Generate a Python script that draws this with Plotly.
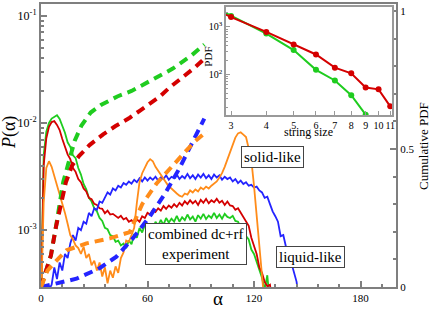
import plotly.graph_objects as go

# ---------------- data ----------------
ALPHA_STEP = 1.5  # histogram bin width in alpha

# P(alpha) in units of 1e-3 on bins alpha = 0, 1.5, 3, ...
P_GREEN_E3 = [0.2, 5.0, 8.3, 10.0, 11.0, 11.5, 11.8, 10.9, 9.4, 8.1, 6.6, 6.0, 5.0, 4.7, 3.8, 3.3, 2.7, 2.4, 2.0, 1.85,
              1.6, 1.5, 1.3, 1.22, 1.05, 1.02, 0.9, 0.88, 0.78, 0.8, 0.72, 0.75, 0.68, 0.8, 0.74, 0.92, 0.85, 1.05, 0.95, 1.12,
              1.02, 1.15, 1.02, 1.2, 1.1, 1.25, 1.12, 1.3, 1.18, 1.28, 1.2, 1.36, 1.2, 1.32, 1.24, 1.4, 1.26, 1.34, 1.2, 1.38,
              1.28, 1.42, 1.27, 1.37, 1.3, 1.45, 1.3, 1.4, 1.28, 1.42, 1.33, 1.3, 1.36, 1.22, 1.2, 1.06, 1.05, 0.88, 0.82, 0.66,
              0.6, 0.5, 0.43, 0.36, 0.28, 0.38, 0.2]
P_RED_E3 = [0.2, 4.0, 7.2, 9.2, 10.2, 10.4, 9.6, 8.6, 7.1, 6.1, 5.1, 4.6, 3.8, 3.5, 3.0, 2.8, 2.45, 2.3, 2.0, 1.95,
            1.76, 1.72, 1.6, 1.58, 1.44, 1.52, 1.4, 1.42, 1.36, 1.3, 1.36, 1.26, 1.3, 1.2, 1.24, 1.16, 1.26, 1.2, 1.35, 1.3,
            1.45, 1.4, 1.55, 1.48, 1.6, 1.52, 1.68, 1.58, 1.7, 1.62, 1.75, 1.65, 1.8, 1.7, 1.86, 1.75, 1.9, 1.78, 1.88, 1.72,
            1.92, 1.8, 1.96, 1.78, 1.9, 1.82, 1.96, 1.8, 1.88, 1.72, 1.85, 1.7, 1.68, 1.55, 1.6, 1.45, 1.35, 1.22, 1.1, 0.85,
            0.7, 0.6, 0.45, 0.4, 0.33, 0.3, 0.31, 0.2]
P_BLUE_E3 = [0.2, 0.2, 0.25, 0.28, 0.31, 0.45, 0.35, 0.5, 0.42, 0.6, 0.55, 0.75, 0.9, 0.8, 1.05, 1.0, 1.2, 1.15, 1.45, 1.35,
             1.6, 1.55, 1.85, 1.8, 2.05, 2.25, 2.15, 2.45, 2.35, 2.6, 2.5, 2.75, 2.65, 2.85, 2.72, 2.95, 2.8, 3.05, 2.85, 3.1,
             2.9, 3.1, 2.95, 3.15, 2.9, 3.1, 3.0, 3.25, 2.95, 3.15, 3.05, 3.3, 3.0, 3.2, 3.05, 3.35, 3.05, 3.25, 3.0, 3.3,
             3.1, 3.35, 3.05, 3.25, 3.0, 3.3, 3.1, 3.25, 2.95, 3.15, 3.0, 3.1, 2.85, 3.0, 2.75, 2.9, 2.7, 2.8, 2.6, 2.65,
             2.5, 2.55, 2.35, 2.25, 2.0, 2.05, 1.75, 1.5, 1.35, 1.2, 0.88, 0.9, 0.7, 0.56, 0.5, 0.4, 0.33, 0.2]
P_ORANGE_E3 = [0.2, 1.8, 3.8, 4.4, 3.9, 3.2, 2.7, 2.2, 1.8, 1.45, 1.15, 0.9, 0.82, 0.72, 0.68, 0.6, 0.7, 0.55, 0.6, 0.47,
               0.52, 0.42, 0.5, 0.37, 0.45, 0.32, 0.42, 0.36, 0.46, 0.4, 0.55, 0.62, 0.8, 0.78, 0.9, 1.05, 1.8, 2.8, 3.4, 3.9,
               4.3, 4.6, 4.4, 3.9, 3.6, 3.3, 3.0, 2.8, 2.55, 2.45, 2.3, 2.2, 2.1, 2.05, 2.2, 2.15, 2.35, 2.25, 2.4, 2.3,
               2.5, 2.4, 2.55, 2.45, 2.6, 2.7, 2.85, 3.1, 3.4, 3.9, 4.6, 5.4, 6.3, 7.3, 8.0, 8.2, 7.8, 7.4, 5.8, 4.5,
               2.6, 1.3, 0.65, 0.35, 0.2]

# cumulative PDFs (right axis)
CUM_GREEN_A = [0, 2.8, 5.6, 8.4, 11, 12.5, 15.3, 19, 22.8, 28, 34, 43, 51, 63, 74, 85, 92]
CUM_GREEN = [0, 0.055, 0.115, 0.217, 0.32, 0.38, 0.445, 0.53, 0.585, 0.632, 0.66, 0.69, 0.71, 0.752, 0.79, 0.84, 0.878]
CUM_RED_A = [0, 2.8, 5.6, 8.4, 11, 14, 17.5, 21.5, 27.5, 35, 42, 50, 56, 61, 67, 72, 77, 82, 87, 92]
CUM_RED = [0, 0.055, 0.115, 0.217, 0.3, 0.379, 0.44, 0.475, 0.515, 0.553, 0.583, 0.613, 0.64, 0.662, 0.69, 0.72, 0.745,
           0.769, 0.797, 0.827]
CUM_BLUE_A = [0, 8.8, 20, 33, 42.5, 51.7, 61, 70, 78, 85, 92]
CUM_BLUE = [0.0, 0.012, 0.03, 0.068, 0.11, 0.176, 0.253, 0.34, 0.43, 0.52, 0.61]
CUM_ORANGE_A = [0, 3.7, 9.4, 14.4, 25.6, 38.7, 50, 53, 57, 65, 74, 81.7, 87, 93.6]
CUM_ORANGE = [0, 0.06, 0.10, 0.133, 0.158, 0.176, 0.199, 0.24, 0.3, 0.374, 0.44, 0.493, 0.529, 0.565]

# inset: PDF of string sizes
STRING_SIZE_GREEN = [2, 3, 4, 5, 6, 7, 8, 9]
PDF_GREEN = [5900, 1700, 725, 325, 124, 74, 36, 14]
STRING_SIZE_RED = [2, 3, 4, 5, 6, 7, 8, 9, 10, 11]
PDF_RED = [5000, 1620, 785, 425, 262, 138, 105, 52.5, 48, 21]

GREEN, RED, BLUE, ORANGE = "#1fcc1f", "#d40000", "#2424ff", "#ff8c1a"
AXC = "#7f7f7f"
FONT = "Liberation Serif"


def bins(vals):
    return [i * ALPHA_STEP for i in range(len(vals))]


def e3(vals):
    return [v * 1e-3 for v in vals]


fig = go.Figure()

for vals, col in [(P_GREEN_E3, GREEN), (P_RED_E3, RED), (P_BLUE_E3, BLUE), (P_ORANGE_E3, ORANGE)]:
    fig.add_trace(go.Scatter(x=bins(vals), y=e3(vals), mode="lines",
                             line=dict(color=col, width=1.8), xaxis="x", yaxis="y"))

for xa, ya, col in [(CUM_GREEN_A, CUM_GREEN, GREEN), (CUM_RED_A, CUM_RED, RED),
                    (CUM_BLUE_A, CUM_BLUE, BLUE), (CUM_ORANGE_A, CUM_ORANGE, ORANGE)]:
    fig.add_trace(go.Scatter(x=xa, y=ya, mode="lines",
                             line=dict(color=col, width=4, dash="9px,6px"), xaxis="x", yaxis="y3"))

fig.add_trace(go.Scatter(x=STRING_SIZE_GREEN, y=PDF_GREEN, mode="lines+markers",
                         line=dict(color=GREEN, width=2), marker=dict(color=GREEN, size=6, symbol="circle"),
                         xaxis="x2", yaxis="y2", cliponaxis=True))
fig.add_trace(go.Scatter(x=STRING_SIZE_RED, y=PDF_RED, mode="lines+markers",
                         line=dict(color=RED, width=2), marker=dict(color=RED, size=6, symbol="circle"),
                         xaxis="x2", yaxis="y2", cliponaxis=True))

minor_log_main = [k * 1e-4 for k in range(3, 10)] + [k * 1e-3 for k in range(2, 10)] + [k * 1e-2 for k in range(2, 10)]
minor_log_inset = [k * 10 for k in range(2, 10)] + [k * 100 for k in range(2, 10)] + [2000]

fig.update_layout(
    width=436, height=310,
    margin=dict(l=41, r=40, t=2, b=23),
    plot_bgcolor="white", paper_bgcolor="white",
    showlegend=False,
    font=dict(family=FONT, color="black"),
    xaxis=dict(domain=[0, 1], range=[0, 200], tickvals=[0, 60, 120, 180], ticks="inside", ticklen=6,
               tickcolor=AXC, tickwidth=1.5, showline=True, linecolor=AXC, linewidth=2, mirror=True,
               showgrid=False, zeroline=False, tickfont=dict(size=11, family=FONT), tickangle=0,
               minor=dict(tickvals=[12, 24, 36, 48, 72, 84, 96, 108, 132, 144, 156, 168, 192],
                          ticks="inside", ticklen=3, tickcolor=AXC)),
    yaxis=dict(type="log", range=[-3.53, -0.89], tickvals=[1e-3, 1e-2, 1e-1],
               ticktext=["10<sup>-3</sup>", "10<sup>-2</sup>", "10<sup>-1</sup>"],
               ticks="inside", ticklen=6, tickcolor=AXC, tickwidth=1.5,
               showline=True, linecolor=AXC, linewidth=2, showgrid=False, zeroline=False,
               tickfont=dict(size=12, family=FONT),
               minor=dict(tickvals=minor_log_main, ticks="inside", ticklen=3, tickcolor=AXC)),
    yaxis3=dict(overlaying="y", side="right", anchor="x", range=[0, 1.025], tickvals=[0, 0.5, 1],
                ticktext=["0", "0.5", "1"], ticks="inside", ticklen=6, tickcolor=AXC, tickwidth=1.5,
                showline=True, linecolor=AXC, linewidth=2, showgrid=False, zeroline=False,
                tickfont=dict(size=11, family=FONT),
                minor=dict(tickvals=[0.1, 0.2, 0.3, 0.4, 0.6, 0.7, 0.8, 0.9], ticks="inside", ticklen=3,
                           tickcolor=AXC)),
    xaxis2=dict(domain=[0.521, 0.989], anchor="y2", type="log", range=[0.459, 1.048],
                tickvals=[3, 4, 5, 6, 7, 8, 9, 10, 11], ticktext=["3", "4", "5", "6", "7", "8", "9", "10", "11"],
                tickangle=0, ticks="inside", ticklen=4, tickcolor="#999999",
                showline=True, linecolor="#999999", linewidth=1.5, mirror=True, showgrid=False, zeroline=False,
                tickfont=dict(size=10, family=FONT)),
    yaxis2=dict(domain=[0.607, 0.989], anchor="x2", type="log", range=[1.134, 3.42],
                tickvals=[100, 1000], ticktext=["10<sup>2</sup>", "10<sup>3</sup>"],
                ticks="inside", ticklen=4, tickcolor="#999999",
                showline=True, linecolor="#999999", linewidth=1.5, mirror=True, showgrid=False, zeroline=False,
                tickfont=dict(size=10, family=FONT),
                minor=dict(tickvals=minor_log_inset, ticks="inside", ticklen=2, tickcolor="#999999")),
)


def px_to_paper(px, py):
    return (px - 41) / 355.0, (287 - py) / 285.0


def add_text(text, px, py, size, angle=0, box=False):
    x, y = px_to_paper(px, py)
    kw = dict(xref="paper", yref="paper", x=x, y=y, text=text, showarrow=False,
              font=dict(size=size, family=FONT, color="black"), textangle=angle,
              xanchor="center", yanchor="middle")
    if box:
        kw.update(bordercolor="#444444", borderwidth=1, bgcolor="white", borderpad=2)
    fig.add_annotation(**kw)


add_text("α", 218, 299, 19)
add_text("<i>P</i>(α)", 9, 132, 18, angle=-90)
add_text("Cumulative PDF", 424, 145, 13, angle=-90)
add_text("string size", 308, 131, 12)
add_text("PDF", 208, 55, 11, angle=-90)
add_text("solid-like", 272, 156, 15, box=True)
add_text("liquid-like", 310, 257, 15, box=True)
add_text("combined dc+rf<br>experiment", 195.5, 243.5, 15, box=True)

fig.write_html("out.html", config={"displayModeBar": False},
               post_script="document.body.style.margin='0';")
